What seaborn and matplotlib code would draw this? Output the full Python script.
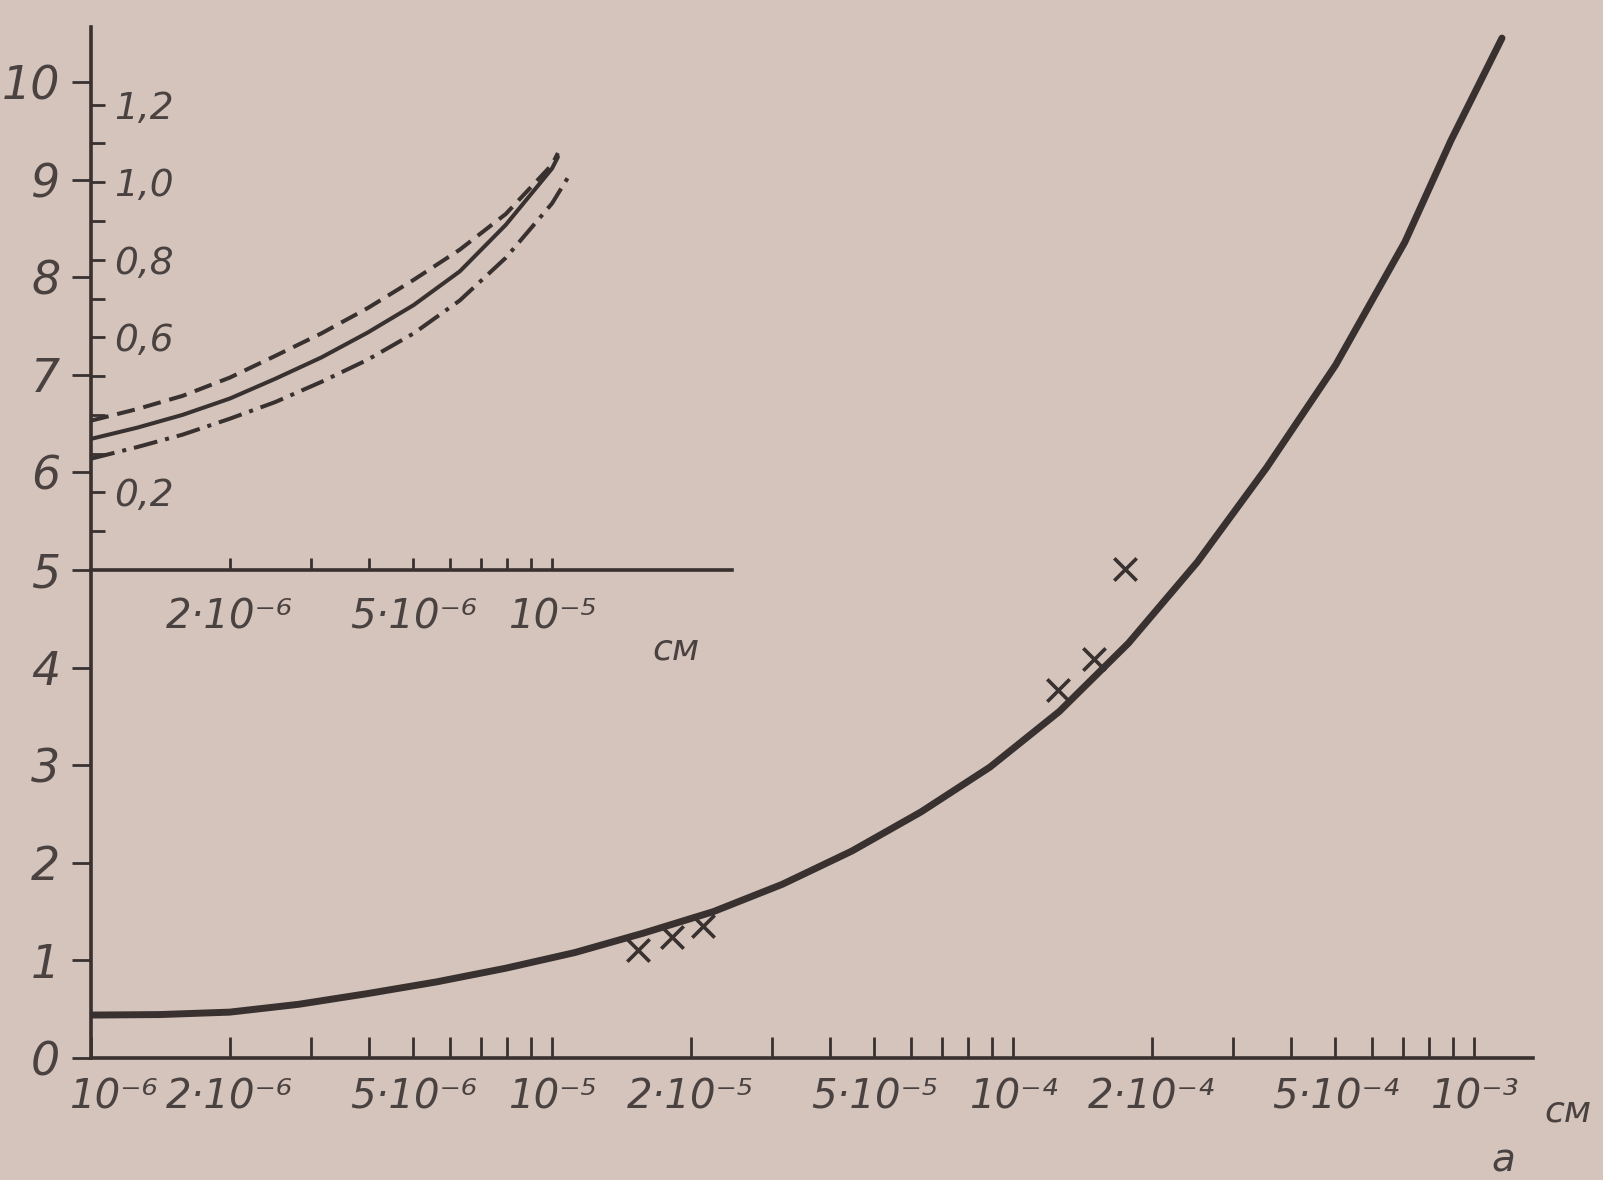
import matplotlib
matplotlib.use("Agg")
import matplotlib.pyplot as plt
from matplotlib.transforms import ScaledTranslation
import pandas as pd
import seaborn as sns
from matplotlib.ticker import FixedLocator, FixedFormatter, NullFormatter

# ---------------- data ----------------
main_x = [1.0e-6, 1.41e-6, 2.0e-6, 2.82e-6, 3.98e-6, 5.62e-6, 7.94e-6, 1.12e-5,
          1.58e-5, 2.24e-5, 3.16e-5, 4.47e-5, 6.31e-5, 8.91e-5, 1.26e-4, 1.78e-4,
          2.51e-4, 3.55e-4, 5.01e-4, 7.08e-4, 8.91e-4, 1.15e-3]
main_y = [0.44, 0.445, 0.47, 0.55, 0.66, 0.78, 0.92, 1.08,
          1.28, 1.50, 1.78, 2.12, 2.52, 2.98, 3.55, 4.25,
          5.08, 6.05, 7.10, 8.36, 9.40, 10.45]

cross_x = [1.54e-5, 1.82e-5, 2.13e-5, 1.25e-4, 1.50e-4, 1.75e-4]
cross_y = [1.11, 1.24, 1.35, 3.77, 4.09, 5.01]

inset_x = [1.0e-6, 1.26e-6, 1.58e-6, 2.0e-6, 2.51e-6, 3.16e-6, 3.98e-6, 5.01e-6,
           6.31e-6, 7.94e-6, 1.0e-5]
inset_solid_y = [0.338, 0.367, 0.400, 0.442, 0.493, 0.548, 0.612, 0.683,
                 0.770, 0.890, 1.035]
inset_dashed_y = [0.385, 0.415, 0.449, 0.496, 0.552, 0.610, 0.675, 0.748,
                  0.826, 0.918, 1.045]
inset_dashdot_y = [0.287, 0.317, 0.349, 0.390, 0.433, 0.485, 0.542, 0.610,
                   0.695, 0.805, 0.945]
inset_end_x = [1.03e-5, 1.03e-5, 1.10e-5]          # last drawn point of each curve
inset_end_y = [1.065, 1.075, 1.025]                 # solid, dashed, dash-dot

main_xtick_vals = [1e-6, 2e-6, 5e-6, 1e-5, 2e-5, 5e-5, 1e-4, 2e-4, 5e-4, 1e-3]
main_xtick_text = ["10⁻⁶", "2·10⁻⁶", "5·10⁻⁶", "10⁻⁵", "2·10⁻⁵", "5·10⁻⁵",
                   "10⁻⁴", "2·10⁻⁴", "5·10⁻⁴", "10⁻³"]
main_xminor_vals = [3e-6, 4e-6, 6e-6, 7e-6, 8e-6, 9e-6,
                    3e-5, 4e-5, 6e-5, 7e-5, 8e-5, 9e-5,
                    3e-4, 4e-4, 6e-4, 7e-4, 8e-4, 9e-4]
main_ytick_vals = [0, 1, 2, 3, 4, 5, 6, 7, 8, 9, 10]
main_ytick_text = ["0", "1", "2", "3", "4", "5", "6", "7", "8", "9", "10"]

inset_xtick_vals = [2e-6, 5e-6, 1e-5]
inset_xtick_text = ["2·10⁻⁶", "5·10⁻⁶", "10⁻⁵"]
inset_xminor_vals = [3e-6, 4e-6, 6e-6, 7e-6, 8e-6, 9e-6]
inset_ytick_vals = [0.2, 0.6, 0.8, 1.0, 1.2]
inset_ytick_text = ["0,2", "0,6", "0,8", "1,0", "1,2"]
inset_yminor_vals = [0.1, 0.3, 0.4, 0.5, 0.7, 0.9, 1.1]

unit_text = "см"
axis_name = "a"

# ---------------- style ----------------
PAPER = "#d4c4bb"
INK = "#383130"
TEXT = "#4a4241"

sns.set_theme(style="white")
plt.rcParams["font.family"] = ["DejaVu Sans"]
plt.rcParams["font.style"] = "italic"

W, H = 1603, 1180
fig = plt.figure(figsize=(W / 100, H / 100), dpi=100)
fig.patch.set_facecolor(PAPER)

x0_px, x1_px = 91, 1533
y0_px, ytop_px = 1058, 27
px_per_dec = 461.0
px_per_unit = 97.6

ax = fig.add_axes([x0_px / W, 1 - y0_px / H, (x1_px - x0_px) / W, (y0_px - ytop_px) / H])
ax.set_facecolor(PAPER)
ax.set_xscale("log")
ax.set_xlim(1e-6, 10 ** (-6 + (x1_px - x0_px) / px_per_dec))
ax.set_ylim(0, (y0_px - ytop_px) / px_per_unit)

df_main = pd.DataFrame({"a": main_x, "v": main_y})
sns.lineplot(data=df_main, x="a", y="v", ax=ax, color=INK, linewidth=5.0,
             solid_capstyle="round", solid_joinstyle="round", estimator=None)
df_cross = pd.DataFrame({"a": cross_x, "v": cross_y})
sns.scatterplot(data=df_cross, x="a", y="v", ax=ax, marker="x", s=260,
                color=INK, linewidth=2.6, zorder=5)

for s in ["top", "right"]:
    ax.spines[s].set_visible(False)
for s in ["left", "bottom"]:
    ax.spines[s].set_color(INK)
    ax.spines[s].set_linewidth(2.6)

ax.xaxis.set_major_locator(FixedLocator(main_xtick_vals))
ax.xaxis.set_major_formatter(FixedFormatter(main_xtick_text))
ax.xaxis.set_minor_locator(FixedLocator(main_xminor_vals))
ax.xaxis.set_minor_formatter(NullFormatter())
ax.yaxis.set_major_locator(FixedLocator(main_ytick_vals))
ax.yaxis.set_major_formatter(FixedFormatter(main_ytick_text))
ax.tick_params(axis="x", which="both", direction="in", length=15, width=2.0,
               color=INK, labelsize=29, labelcolor=TEXT, pad=14, bottom=True)
ax.tick_params(axis="y", which="major", direction="out", length=14, width=2.0,
               color=INK, labelsize=33, labelcolor=TEXT, pad=8, left=True)
ax.set_xlabel("")
ax.set_ylabel("")
first = ax.get_xticklabels()[0]
first.set_transform(first.get_transform() + ScaledTranslation(0.22, 0, fig.dpi_scale_trans))

# ---------------- inset ----------------
inset_bottom_px = y0_px - 5 * px_per_unit
inset_right_px = 732
ax_in = fig.add_axes([x0_px / W, 1 - inset_bottom_px / H,
                      (inset_right_px - x0_px) / W, (inset_bottom_px - ytop_px) / H])
ax_in.patch.set_alpha(0)
ax_in.set_xscale("log")
ax_in.set_xlim(1e-6, 10 ** (-6 + (inset_right_px - x0_px) / px_per_dec))
ax_in.set_ylim(0, 1.40)

df_s = pd.DataFrame({"a": inset_x + [inset_end_x[0]], "v": inset_solid_y + [inset_end_y[0]]})
df_d = pd.DataFrame({"a": inset_x + [inset_end_x[1]], "v": inset_dashed_y + [inset_end_y[1]]})
df_dd = pd.DataFrame({"a": inset_x + [inset_end_x[2]], "v": inset_dashdot_y + [inset_end_y[2]]})
sns.lineplot(data=df_s, x="a", y="v", ax=ax_in, color=INK, linewidth=2.9, estimator=None)
sns.lineplot(data=df_d, x="a", y="v", ax=ax_in, color=INK, linewidth=2.9, estimator=None,
             linestyle=(0, (4.5, 2.2)))
sns.lineplot(data=df_dd, x="a", y="v", ax=ax_in, color=INK, linewidth=2.9, estimator=None,
             linestyle=(0, (6.0, 2.0, 1.0, 2.0)))

for s in ["top", "right", "left"]:
    ax_in.spines[s].set_visible(False)
ax_in.spines["bottom"].set_color(INK)
ax_in.spines["bottom"].set_linewidth(2.6)

ax_in.xaxis.set_major_locator(FixedLocator(inset_xtick_vals))
ax_in.xaxis.set_major_formatter(FixedFormatter(inset_xtick_text))
ax_in.xaxis.set_minor_locator(FixedLocator(inset_xminor_vals))
ax_in.xaxis.set_minor_formatter(NullFormatter())
ax_in.yaxis.set_major_locator(FixedLocator(inset_ytick_vals))
ax_in.yaxis.set_major_formatter(FixedFormatter(inset_ytick_text))
ax_in.yaxis.set_minor_locator(FixedLocator(inset_yminor_vals))
ax_in.yaxis.set_minor_formatter(NullFormatter())
ax_in.tick_params(axis="x", which="both", direction="in", length=9, width=2.0,
                  color=INK, labelsize=29, labelcolor=TEXT, pad=20, bottom=True)
ax_in.tick_params(axis="y", which="both", direction="in", length=10, width=2.0,
                  color=INK, labelsize=27, labelcolor=TEXT, pad=-17, left=True)
for lab in ax_in.get_yticklabels():
    lab.set_horizontalalignment("left")
ax_in.set_xlabel("")
ax_in.set_ylabel("")

# ---------------- unit labels ----------------
fig.text(1568 / W, 1 - 1112 / H, unit_text, fontsize=26, color=TEXT,
         ha="center", va="center")
fig.text(676 / W, 1 - 650 / H, unit_text, fontsize=26, color=TEXT,
         ha="center", va="center")
fig.text(1503 / W, 1 - 1160 / H, axis_name, fontsize=28, color=TEXT,
         ha="center", va="center")

fig.savefig("out.png", dpi=100, facecolor=PAPER)
